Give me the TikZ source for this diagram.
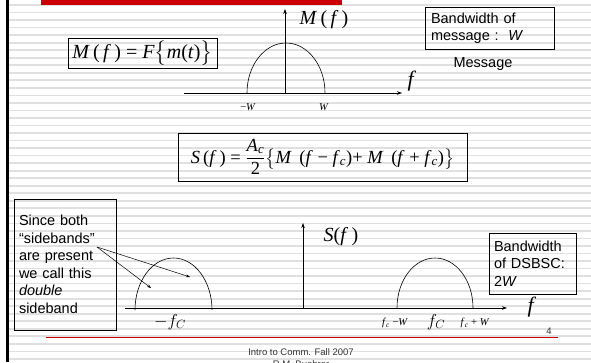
\documentclass[tikz,border=0pt]{standalone}
\usepackage{amsmath}
\usepackage{fontspec}
\setmainfont{Liberation Sans}
\newfontfamily\tms{Liberation Serif}
\usetikzlibrary{arrows.meta}
\definecolor{banner}{RGB}{204,0,0}
\newcommand{\vi}[1]{\textit{#1}}
\begin{document}
\begin{tikzpicture}[x=1pt,y=-1pt,>={Stealth[length=5pt,width=3.5pt]},line width=.6pt,
 bx/.style={draw,line width=.8pt},
 txt/.style={font=\fontsize{14.5}{17.5}\selectfont,align=left},
 eq/.style={font=\tms\fontsize{20}{24}\selectfont},
 lb/.style={font=\tms\fontsize{10.5}{12}\selectfont},
 big/.style={font=\tms\fontsize{22}{26}\selectfont},
 foot/.style={font=\fontsize{9.5}{11}\selectfont,text=black!80},
 stripe/.style={black!12,line width=1.7pt}]
\useasboundingbox (0,0) rectangle (591,362);
% slide background
\foreach \k in {0,...,47} \draw[stripe] (9,5+7.53*\k) -- (591,5+7.53*\k);
\fill (6,0) rectangle (9,362);
\fill[banner] (41,0) rectangle (342,5);
% Message spectrum
\coordinate (o1) at (285,93);
\coordinate (ax1l) at (184,93);
\coordinate (ax1r) at (402,93);
\coordinate (ay1) at (285,9);
\draw[->] (ax1l) -- (ax1r);
\draw[->] (o1) -- (ay1);
\draw (247,93) arc[start angle=180,end angle=0,x radius=39pt,y radius=50pt];
\node[lb] (mw) at (248,107) {−\vi{W}};
\node[lb] (pw) at (324,107) {\vi{W}};
\node[eq] (mf) at (324,20) {\vi{M}\,(\,\vi{f}\,)};
\node[big] (f1) at (412,81) {\vi{f}};
\node[bx,txt,minimum width=129pt,minimum height=42pt,text width=117pt,inner xsep=6pt]
 (bwm) at (489.5,28) {Bandwidth of\\message :\ \ \vi{W}};
\node[txt] (msg) at (483,64) {Message};
\node[bx,eq,minimum width=149pt,minimum height=30pt,inner sep=1pt] (eqm) at (142.5,53)
 {\vi{M}\,(\,\vi{f}\,) = \vi{F}$\bigl\{$\vi{m}(\vi{t})$\bigr\}$};
% Modulated spectrum
\node[bx,font=\tms\fontsize{18.5}{22}\selectfont,minimum width=289pt,minimum height=48pt,inner sep=1pt] (eqs) at (322.5,157)
 {\vi{S}\,(\vi{f}\,) = $\dfrac{\vi{A}_{\vi{c}}}{\text{2}}\bigl\{$\vi{M}\, (\vi{f} − \vi{f}$_{\vi{c}}$)+ \vi{M}\, (\vi{f} + \vi{f}$_{\vi{c}}$)$\bigr\}$};
\coordinate (o2) at (303,308);
\coordinate (ax2l) at (125,308);
\coordinate (ax2r) at (507,308);
\coordinate (ay2) at (303,223);
\draw[->] (ax2l) -- (ax2r);
\draw[->] (o2) -- (ay2);
\draw (135,310) arc[start angle=180,end angle=0,x radius=38.5pt,y radius=52pt];
\draw (397,308) arc[start angle=180,end angle=0,x radius=38pt,y radius=50pt];
\node[eq] (sf) at (341,237) {\vi{S}(\vi{f}\,)};
\node[big] (f2) at (532,307) {\vi{f}};
\node[font=\fontsize{18}{22}\selectfont] (mfc) at (170,322) {$-f_C$};
\node[font=\fontsize{18}{22}\selectfont] (fc) at (436,322) {$f_C$};
\node[lb] (fcm) at (395,323) {\vi{f}$_{\vi{c}}$ −\vi{W}};
\node[lb] (fcp) at (475,323) {\vi{f}$_{\vi{c}}$ + \vi{W}};
\node[bx,txt,minimum width=87pt,minimum height=61pt,text width=77pt,inner xsep=5pt]
 (bwd) at (532.5,263.5) {Bandwidth\\of DSBSC:\\2\vi{W}};
\node[bx,txt,minimum width=102pt,minimum height=131pt,text width=92pt,inner xsep=5pt]
 (dsb) at (65,264.5) {Since both\\“sidebands”\\are present\\we call this\\\vi{double}\\sideband};
\coordinate (ap) at (97,247);
\coordinate (lsb) at (151,288);
\coordinate (usb) at (190,277);
\draw[->,line width=.5pt,>={Stealth[length=4pt,width=3pt]}] (ap) -- (lsb);
\draw[->,line width=.5pt,>={Stealth[length=4pt,width=3pt]}] (ap) -- (usb);
% footer
\draw[banner,line width=.8pt] (46,337) -- (558,337);
\node[foot] (pg) at (549,331) {4};
\node[foot] (ft1) at (301,352) {Intro to Comm. Fall 2007};
\node[foot] (ft2) at (301,364) {R.M. Buehrer};
\end{tikzpicture}
\end{document}
